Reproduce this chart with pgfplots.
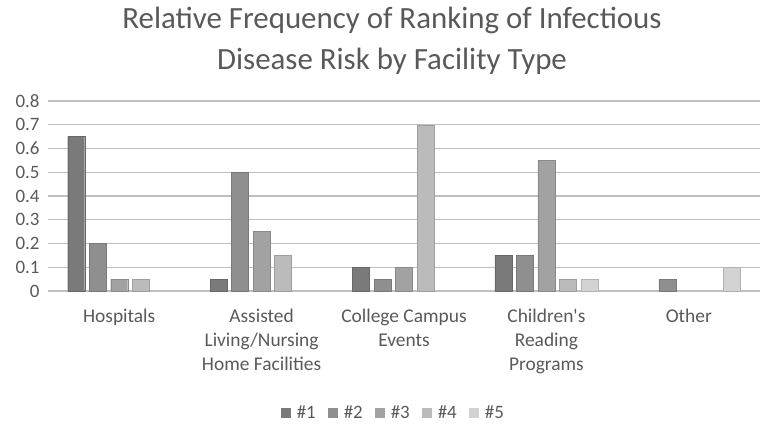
\documentclass[border=0pt]{standalone}
\usepackage{pgfplots}
\pgfplotsset{compat=1.18}
\usepackage{fontspec}
\setmainfont{Carlito}
\definecolor{txt}{HTML}{595959}
\definecolor{grid}{HTML}{D9D9D9}
\definecolor{cA}{HTML}{7A7A7A}
\definecolor{cB}{HTML}{8F8F8F}
\definecolor{cC}{HTML}{A2A2A2}
\definecolor{cD}{HTML}{BBBBBB}
\definecolor{cE}{HTML}{D2D2D2}
\begin{document}
\begin{tikzpicture}
\useasboundingbox (-48bp,-134bp) rectangle (717bp,291bp);
\begin{axis}[
  at={(0,0)}, anchor=south west,
  scale only axis, width=712bp, height=190bp,
  ybar=4.5bp, bar width=17bp,
  xmin=-0.5, xmax=4.5, ymin=0, ymax=0.8,
  ytick={0,0.1,...,0.8},
  xtick={0,1,2,3,4},
  xticklabels={Hospitals,{Assisted\\Living/Nursing\\Home Facilities},{College Campus\\Events},{Children\textquotesingle s\\Reading\\Programs},Other},
  yticklabel style={/pgf/number format/fixed,/pgf/number format/precision=1, font=\fontsize{19}{22}\selectfont, text=txt, xshift=-5bp},
  /pgf/number format/assume math mode=true,
  xticklabel style={font=\fontsize{19.5}{24.5}\selectfont, text=txt, align=center, anchor=north, yshift=-14bp},
  axis line style={draw=none},
  major tick length=0pt,
  xmajorgrids=false,
  ymajorgrids, grid style={grid, line width=1.3bp},
  legend style={at={(0.485,-0.642)}, anchor=center, draw=none, fill=none,
     legend columns=-1, font=\fontsize{19}{22}\selectfont, text=txt,
     /tikz/every even column/.append style={column sep=10bp}},
  legend image code/.code={\path[draw=none,fill=none] (0bp,0bp) -- (14bp,0bp); \fill[#1,draw=none] (0bp,-5bp) rectangle (10bp,5bp);},
]
\addplot[fill=cA, draw=cA!85!black] coordinates {(0,0.65) (1,0.05) (2,0.1) (3,0.15)};
\addplot[fill=cB, draw=cB!85!black] coordinates {(0,0.2) (1,0.5) (2,0.05) (3,0.15) (4,0.05)};
\addplot[fill=cC, draw=cC!85!black] coordinates {(0,0.05) (1,0.25) (2,0.1) (3,0.55)};
\addplot[fill=cD, draw=cD!85!black] coordinates {(0,0.05) (1,0.15) (2,0.7) (3,0.05)};
\addplot[fill=cE, draw=cE!85!black] coordinates {(3,0.05) (4,0.1)};
\legend{\#1,\#2,\#3,\#4,\#5}
\end{axis}
\node[anchor=base, text=txt, font=\fontsize{31}{36}\selectfont] at (344bp,262bp) {Relative Frequency of Ranking of Infectious};
\node[anchor=base, text=txt, font=\fontsize{31}{36}\selectfont] at (344bp,221bp) {Disease Risk by Facility Type};
\end{tikzpicture}
\end{document}
